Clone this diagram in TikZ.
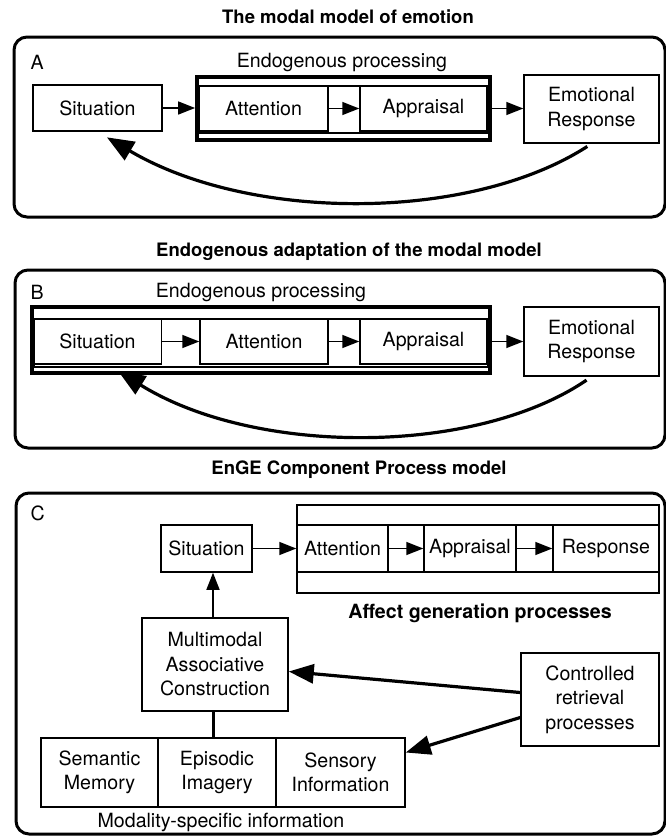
\documentclass[tikz,border=0pt]{standalone}
\usepackage{fontspec}
\setmainfont{TeX Gyre Heros}
\usetikzlibrary{arrows.meta,calc}
\begin{document}
\begin{tikzpicture}[x=1pt,y=-1pt,
  box/.style={draw, line width=1.5pt, inner sep=0pt, align=center, font=\fontsize{19.6}{24.5}\selectfont},
  panel/.style={draw, line width=3pt, rounded corners=13pt},
  thickbox/.style={draw, line width=3.8pt, inner sep=0pt},
  band/.style={draw, line width=1.3pt},
  lbl/.style={font=\fontsize{19.6}{24}\selectfont},
  ttl/.style={font=\bfseries\fontsize{18.5}{22}\selectfont},
  sarr/.style={line width=1.5pt, -{Triangle[length=17pt,width=13pt]}},
  marr/.style={line width=3.2pt, -{Triangle[length=25pt,width=19pt]}},
  barr/.style={line width=3.2pt, -{Triangle[length=27pt,width=21pt]}},
]
\useasboundingbox (0,0) rectangle (666,836);

% ---------------- Panel A ----------------
\node[ttl] (tA) at (348,17) {The modal model of emotion};
\draw[panel] (14,37) rectangle (665,217);
\node[lbl, anchor=west] (labA) at (27,62) {A};
\node[lbl] (endlabA) at (342,62) {Endogenous processing};
\node[thickbox, minimum width=293pt, minimum height=63pt] (endA) at (343.5,108.5) {};
\draw[band] (199,86) rectangle (488,133);
\node[box, minimum width=129pt, minimum height=46pt] (sitA) at (97.5,108) {Situation};
\node[box, minimum width=129pt, minimum height=45pt] (attA) at (263.5,108.5) {Attention};
\node[box, minimum width=127pt, minimum height=45pt] (appA) at (423.5,108.5) {Appraisal};
\node[box, minimum width=135pt, minimum height=68pt] (emoA) at (591.5,109) {Emotional\\Response};
\draw[sarr] (sitA.east) -- (sitA.east -| endA.west);
\draw[sarr] (attA.east) -- (appA.west);
\draw[sarr] (appA.east -| endA.east) -- (emoA.west |- appA.east);
\draw[barr, shorten <=5pt, shorten >=11pt] (emoA.south) .. controls (470,222) and (250,222) .. (sitA.south);

% ---------------- Panel B ----------------
\node[ttl] (tB) at (349,252) {Endogenous adaptation of the modal model};
\draw[panel] (15,270) rectangle (665,448);
\node[lbl, anchor=west] (labB) at (27,292) {B};
\node[lbl] (endlabB) at (261,292) {Endogenous processing};
\node[thickbox, minimum width=458pt, minimum height=66pt] (endB) at (261,340) {};
\draw[band] (34,319) rectangle (488,367);
\node[box, minimum width=128pt, minimum height=45pt] (sitB) at (97.5,341.5) {Situation};
\node[box, minimum width=128pt, minimum height=45pt] (attB) at (264,341.5) {Attention};
\node[box, minimum width=127pt, minimum height=45pt] (appB) at (423.5,341.5) {Appraisal};
\node[box, minimum width=135pt, minimum height=69pt] (emoB) at (591.5,341.5) {Emotional\\Response};
\draw[sarr] (sitB.east) -- (attB.west);
\draw[sarr] (attB.east) -- (appB.west);
\draw[sarr] (appB.east -| endB.east) -- (emoB.west |- appB.east);
\draw[barr, shorten <=6pt, shorten >=12pt] (emoB.south) .. controls (475,456) and (255,456) .. (sitB.south -| 108,0);

% ---------------- Panel C ----------------
\node[ttl] (tC) at (359,470) {EnGE Component Process model};
\draw[panel] (16,493) rectangle (665,834);
\node[lbl, anchor=west] (labC) at (27,513) {C};
\node[draw, line width=1.5pt, inner sep=0pt, minimum width=362pt, minimum height=88pt] (aff) at (478,549) {};
\draw[band] (297,525) -- (659,525);
\draw[band] (297,572) -- (659,572);
\node[box, minimum width=91pt, minimum height=47pt] (sitC) at (206.5,548.5) {Situation};
\node[box, minimum width=91pt, minimum height=47pt] (attC) at (342.5,548.5) {Attention};
\node[box, minimum width=92pt, minimum height=47pt] (appC) at (470,548.5) {Appraisal};
\node[box, minimum width=106pt, minimum height=47pt] (resC) at (606,548.5) {Response};
\node[ttl, font=\bfseries\fontsize{19.6}{22}\selectfont] (afflab) at (480,613) {Affect generation processes};
\draw[sarr] (sitC.east) -- (attC.west);
\draw[sarr] (attC.east) -- (appC.west);
\draw[sarr] (appC.east) -- (resC.west);

\node[box, minimum width=146pt, minimum height=93pt] (multi) at (215,664.5) {Multimodal\\Associative\\Construction};
\node[box, minimum width=138pt, minimum height=93pt] (ctrl) at (590,699.5) {Controlled\\retrieval\\processes};
\node[box, minimum width=117pt, minimum height=69pt] (sem) at (99.5,772.5) {Semantic\\Memory};
\node[box, minimum width=118pt, minimum height=69pt] (epi) at (217,772.5) {Episodic\\Imagery};
\node[box, minimum width=129pt, minimum height=69pt] (sens) at (340.5,772.5) {Sensory\\Information};
\node[lbl] (modlab) at (221,822) {Modality-specific information};

\draw[sarr] ([xshift=-2pt]multi.north) -- ([xshift=-2pt]multi.north |- sitC.south);
\draw[line width=3pt] ([xshift=-2pt]multi.south) -- ([xshift=-2pt]multi.south |- epi.north);
\draw[marr] ([yshift=7pt]ctrl.west) -- ([yshift=-7pt]multi.east);
\draw[marr] ([yshift=-18pt]ctrl.west) -- ([yshift=20pt]sens.east);
\end{tikzpicture}
\end{document}
